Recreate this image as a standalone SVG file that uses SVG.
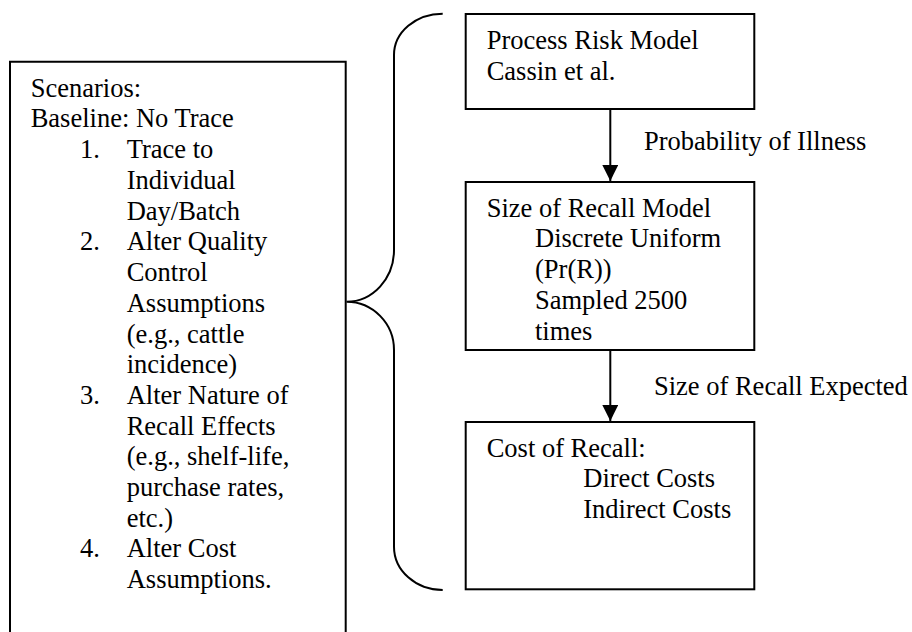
<svg xmlns="http://www.w3.org/2000/svg" width="912" height="632" viewBox="0 0 912 632">
<style>
.box{fill:#fff;stroke:#000;stroke-width:2}
.t{font-family:"Liberation Serif","Times New Roman",serif;font-size:26.5px;fill:#000}
.ln{fill:none;stroke:#000;stroke-width:2}
</style>
<defs>
<marker id="ah" viewBox="0 0 16 16" refX="16" refY="8" markerWidth="16" markerHeight="16" markerUnits="userSpaceOnUse" orient="auto">
<path d="M0,0 L16,8 L0,16 Z" fill="#000"/>
</marker>
</defs>
<rect width="912" height="632" fill="#fff"/>
<g id="scenarios">
<path class="ln" d="M10,633 V61.7 H345.7 V633"/>
<text class="t" x="30.7" y="96.6">Scenarios:</text>
<text class="t" x="30.7" y="127.3">Baseline: No Trace</text>
<text class="t" x="80" y="158.3">1.</text>
<text class="t" x="126.7" y="158.3">Trace to</text>
<text class="t" x="126.7" y="189">Individual</text>
<text class="t" x="126.7" y="219.7">Day/Batch</text>
<text class="t" x="80" y="250.4">2.</text>
<text class="t" x="126.7" y="250.4">Alter Quality</text>
<text class="t" x="126.7" y="281.1">Control</text>
<text class="t" x="126.7" y="311.8">Assumptions</text>
<text class="t" x="126.7" y="342.5">(e.g., cattle</text>
<text class="t" x="126.7" y="373.2">incidence)</text>
<text class="t" x="80" y="403.9">3.</text>
<text class="t" x="126.7" y="403.9">Alter Nature of</text>
<text class="t" x="126.7" y="434.6">Recall Effects</text>
<text class="t" x="126.7" y="465.3">(e.g., shelf-life,</text>
<text class="t" x="126.7" y="496">purchase rates,</text>
<text class="t" x="126.7" y="526.7">etc.)</text>
<text class="t" x="80" y="557.4">4.</text>
<text class="t" x="126.7" y="557.4">Alter Cost</text>
<text class="t" x="126.7" y="588.1">Assumptions.</text>
</g>
<g id="brace">
<path class="ln" d="M442.7,13.7 A48.7,41.3 0 0 0 394,55 V250 A47.5,51.7 0 0 1 346.5,301.7 A47.5,48.3 0 0 1 394,350 V546.7 A48.7,43.3 0 0 0 442.7,590"/>
</g>
<g id="process-risk-model">
<rect class="box" x="465.7" y="14" width="288.6" height="95"/>
<text class="t" x="486.7" y="49.3">Process Risk Model</text>
<text class="t" x="486.7" y="80">Cassin et al.</text>
</g>
<g id="size-of-recall-model">
<rect class="box" x="465.7" y="182" width="288.6" height="168"/>
<text class="t" x="486.7" y="216.7">Size of Recall Model</text>
<text class="t" x="535" y="247.4">Discrete Uniform</text>
<text class="t" x="535" y="278.1">(Pr(R))</text>
<text class="t" x="535" y="308.8">Sampled 2500</text>
<text class="t" x="535" y="339.5">times</text>
</g>
<g id="cost-of-recall">
<rect class="box" x="465.7" y="422" width="288.6" height="167.3"/>
<text class="t" x="486.7" y="456.7">Cost of Recall:</text>
<text class="t" x="583.3" y="487.4">Direct Costs</text>
<text class="t" x="583.3" y="518.1">Indirect Costs</text>
</g>
<g id="connectors">
<line class="ln" x1="610.3" y1="109" x2="610.3" y2="181" marker-end="url(#ah)"/>
<text class="t" x="644" y="150">Probability of Illness</text>
<line class="ln" x1="610.3" y1="350" x2="610.3" y2="421" marker-end="url(#ah)"/>
<text class="t" x="654" y="395">Size of Recall Expected</text>
</g>
</svg>
